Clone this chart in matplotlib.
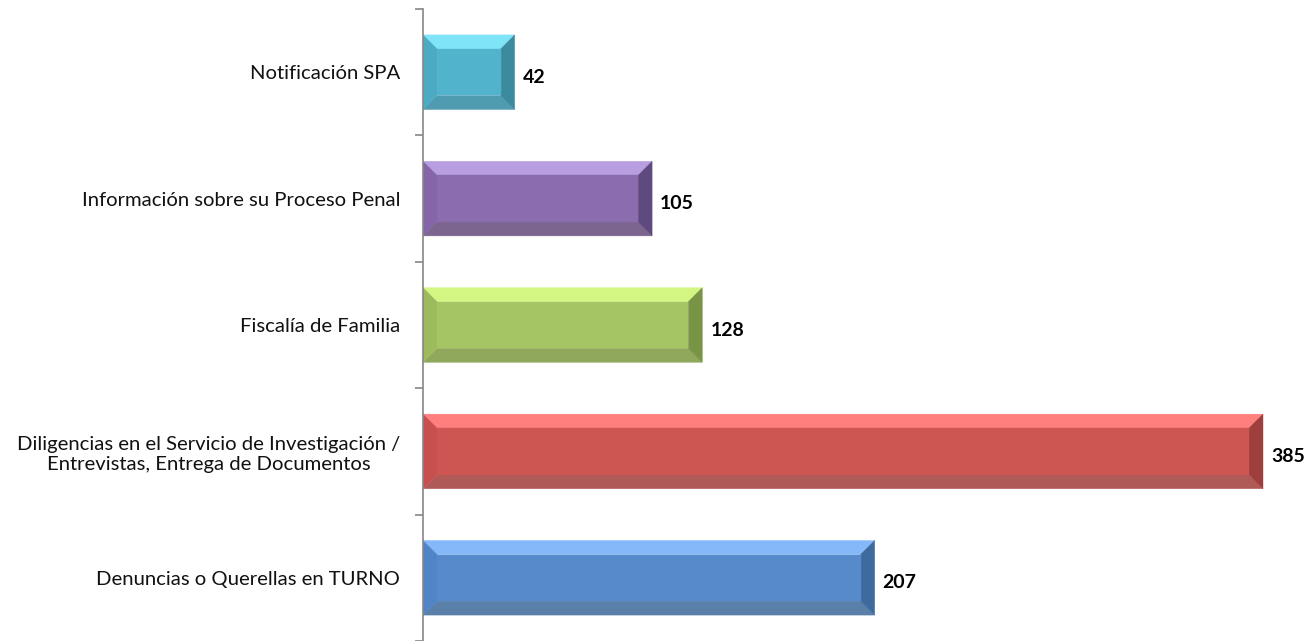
import numpy as np
import matplotlib.pyplot as plt
from matplotlib.patches import Polygon

categories = [
    "Denuncias o Querellas en TURNO",
    "Diligencias en el Servicio de Investigación /\nEntrevistas, Entrega de Documentos",
    "Fiscalía de Familia",
    "Información sobre su Proceso Penal",
    "Notificación SPA",
]
values = [207, 385, 128, 105, 42]

# face, top, left, right, bottom
palettes = [
    ("#568acb", "#84b8f8", "#4f85c6", "#3e6a9e", "#5a7fa8"),
    ("#cd5552", "#ff7f7f", "#c74f4d", "#9e3f3d", "#b05a58"),
    ("#a5c464", "#d3f683", "#9dbb5c", "#7a9446", "#8fa85b"),
    ("#8a6caf", "#b89ee0", "#8466a8", "#5f4a80", "#7c6690"),
    ("#52b4cc", "#80e4f8", "#4caac2", "#3b8a9e", "#4f9cb0"),
]

plt.rcParams["font.family"] = ["Lato", "DejaVu Sans"]

W, H = 1310, 641
fig = plt.figure(figsize=(W / 100, H / 100), dpi=100)
ax = fig.add_axes([423 / W, 0, (1300 - 423) / W, 632 / H])

px_per_unit = (1263 - 423) / 385
ax.set_xlim(0, (1300 - 423) / px_per_unit)
ax.set_ylim(-0.5, len(values) - 0.5)

bar_h = 0.59
bev_x = 14 / px_per_unit
bev_y = 14 / 126.4

for i, (v, pal) in enumerate(zip(values, palettes)):
    face, top, left, right, bottom = pal
    y0, y1 = i - bar_h / 2, i + bar_h / 2
    x0, x1 = 0, v
    ix0, ix1 = x0 + bev_x, x1 - bev_x
    iy0, iy1 = y0 + bev_y, y1 - bev_y
    polys = [
        ([(x0, y1), (x1, y1), (ix1, iy1), (ix0, iy1)], top),
        ([(x0, y0), (x1, y0), (ix1, iy0), (ix0, iy0)], bottom),
        ([(x0, y0), (x0, y1), (ix0, iy1), (ix0, iy0)], left),
        ([(x1, y0), (x1, y1), (ix1, iy1), (ix1, iy0)], right),
        ([(ix0, iy0), (ix1, iy0), (ix1, iy1), (ix0, iy1)], face),
    ]
    for pts, c in polys:
        ax.add_patch(Polygon(pts, closed=True, facecolor=c, edgecolor=c, linewidth=0.3))
    ax.text(v + 8 / px_per_unit, i - 0.04, str(v), ha="left", va="center",
            fontsize=14, fontweight="bold", color="black")

for s in ["top", "right", "bottom"]:
    ax.spines[s].set_visible(False)
ax.spines["left"].set_color("#868686")
ax.spines["left"].set_linewidth(1.2)
ax.set_xticks([])
ax.set_yticks(np.arange(len(values)))
ax.set_yticklabels(categories, fontsize=14.6, color="#111111")
for lab in ax.get_yticklabels():
    lab.set_horizontalalignment("right")
    lab.set_multialignment("center")
    lab.set_linespacing(1.25)
ax.tick_params(axis="y", length=0, pad=16.5)
ax.set_yticks(np.arange(-0.5, len(values)), minor=True)
ax.tick_params(axis="y", which="minor", length=6, width=1.2, color="#868686")

fig.savefig("out.png", dpi=100)
